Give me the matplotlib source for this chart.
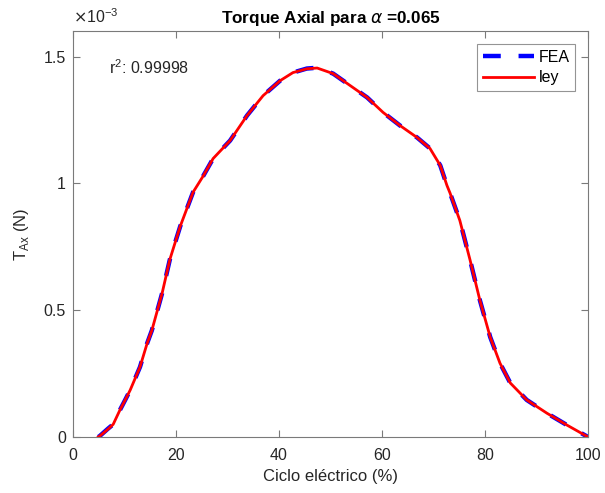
import matplotlib.pyplot as plt
import numpy as np

# Ciclo eléctrico (%) y torque axial (en unidades de 1e-3 N)
ciclo = [4.9, 5.2, 6.8, 7.8, 9.1, 10.1, 11.1, 13.0, 14.4, 15.3, 17.3, 18.8,
         20.8, 23.3, 25.3, 27.2, 30.5, 33.8, 36.9, 40.2, 42.7, 45.4, 47.4,
         50.5, 53.8, 57.1, 60.2, 63.5, 66.8, 69.3, 71.3, 72.6, 73.2, 75.1,
         77.1, 79.0, 81.0, 82.9, 84.9, 88.1, 92.0, 95.9, 100.0]
fea = [0.0, 0.004, 0.033, 0.05, 0.106, 0.145, 0.185, 0.276, 0.37, 0.42,
       0.567, 0.70, 0.83, 0.965, 1.03, 1.098, 1.169, 1.268, 1.346, 1.405,
       1.437, 1.453, 1.456, 1.433, 1.386, 1.339, 1.28, 1.228, 1.181, 1.138,
       1.071, 0.992, 0.962, 0.854, 0.697, 0.539, 0.394, 0.291, 0.213, 0.146,
       0.094, 0.047, 0.0]
ley = [0.0, 0.004, 0.031, 0.05, 0.106, 0.145, 0.185, 0.276, 0.37, 0.42,
       0.567, 0.70, 0.83, 0.965, 1.03, 1.098, 1.169, 1.268, 1.346, 1.405,
       1.437, 1.452, 1.455, 1.433, 1.386, 1.339, 1.28, 1.228, 1.181, 1.138,
       1.071, 0.992, 0.962, 0.854, 0.697, 0.539, 0.394, 0.291, 0.213, 0.146,
       0.094, 0.047, 0.0]

plt.rcParams['font.family'] = ['Liberation Sans', 'DejaVu Sans']

fig = plt.figure(figsize=(6.05, 4.93), dpi=100)
ax = fig.add_axes([0.1207, 0.1136, 0.8513, 0.823])

ax.plot(ciclo, fea, color='#0000ff', linewidth=3.2, linestyle=(0, (4, 4)), label='FEA')
ax.plot(ciclo, ley, color='#ff0000', linewidth=2, label='ley')

ax.set_xlim(0, 100)
ax.set_ylim(0, 1.6)
ax.set_xticks([0, 20, 40, 60, 80, 100])
ax.set_yticks([0, 0.5, 1, 1.5])
ax.set_yticklabels(['0', '0.5', '1', '1.5'])

grey = '#7a7a7a'
for s in ax.spines.values():
    s.set_color(grey)
    s.set_linewidth(0.8)
ax.tick_params(direction='in', top=True, right=True, length=5, width=0.8,
               color=grey, labelcolor='#262626', labelsize=11.5)
ax.tick_params(axis='x', pad=8)
ax.tick_params(axis='y', pad=5)

ax.set_xlabel('Ciclo eléctrico (%)', fontsize=12, color='#262626', labelpad=4)
ax.set_ylabel(r'T$_{\mathregular{Ax}}$ (N)', fontsize=12, color='#262626', labelpad=9)
ax.set_title(r'Torque Axial para $\alpha$ =0.065', fontsize=12.3,
             fontweight='bold', pad=6)

ax.text(0.0, 1.012, r'$\times$10$^{\mathregular{-3}}$', transform=ax.transAxes,
        fontsize=11.5, color='#262626', ha='left', va='bottom')
ax.text(7.0, 1.43, r'r$^{\mathregular{2}}$: 0.99998', fontsize=11.5, color='#262626')

leg = ax.legend(loc='upper right', fontsize=11.5, frameon=True, fancybox=False,
                handlelength=3.2, borderpad=0.35, labelspacing=0.35,
                handletextpad=0.3, borderaxespad=0.8)
leg.get_frame().set_edgecolor(grey)
leg.get_frame().set_linewidth(0.8)

fig.savefig('out.png', dpi=100)
